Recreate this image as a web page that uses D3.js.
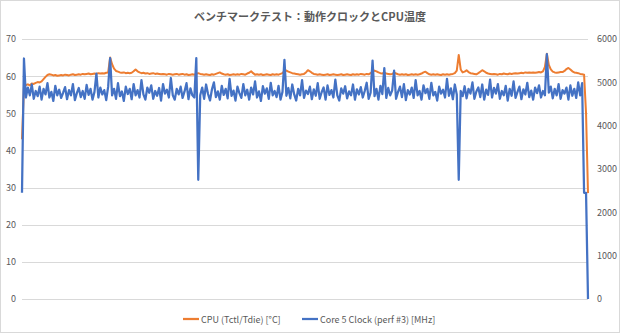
<!DOCTYPE html>
<html>
<head>
<meta charset="utf-8">
<script src="https://cdn.jsdelivr.net/npm/d3@7"></script>
<style>
  html, body { margin: 0; padding: 0; background: #fff; }
  svg { display: block; }
</style>
</head>
<body>
<svg id="chart" width="620" height="333"></svg>
<script>
// Benchmark log: CPU temperature (left axis) and core clock (right axis)
const title = "ベンチマークテスト：動作クロックとCPU温度";
const seriesNames = ["CPU (Tctl/Tdie) [°C]", "Core 5 Clock (perf #3) [MHz]"];
const tempTicks = [0, 10, 20, 30, 40, 50, 60, 70];
const clockTicks = [0, 1000, 2000, 3000, 4000, 5000, 6000];

const cpuTemp = [
  43, 57.2, 57.6, 57.8, 57.5, 58.0, 57.9, 58.2, 58.4, 58.3,
  58.6, 59.2, 59.8, 60.3, 60.5, 60.4, 60.2, 60.3, 60.1, 60.2,
  60.3, 60.2, 60.4, 60.3, 60.2, 60.4, 60.5, 60.3, 60.4, 60.5,
  60.4, 60.6, 60.5, 60.6, 60.7, 60.5, 60.6, 60.7, 60.6, 60.8,
  60.7, 60.8, 60.7, 60.9, 61.0, 65.0, 63.2, 62.0, 61.4, 61.2,
  61.0, 60.9, 61.0, 60.8, 60.9, 60.8, 60.9, 61.3, 61.8, 61.3,
  61.0, 60.8, 60.9, 60.7, 60.8, 60.6, 60.7, 60.8, 60.6, 60.7,
  60.6, 60.5, 60.6, 60.5, 60.4, 60.6, 60.5, 60.4, 60.5, 60.6,
  60.4, 60.5, 60.6, 60.4, 60.5, 60.3, 60.4, 60.5, 60.4, 60.6,
  60.8, 60.6, 60.5, 60.4, 60.5, 60.4, 60.3, 60.5, 60.4, 60.6,
  60.8, 61.0, 60.7, 60.5, 60.4, 60.5, 60.3, 60.4, 60.5, 60.4,
  60.5, 60.4, 60.6, 60.5, 60.4, 60.7, 60.9, 61.3, 60.8, 60.4,
  60.5, 60.4, 60.5, 60.3, 60.4, 60.5, 60.4, 60.3, 60.5, 60.4,
  60.5, 60.4, 60.6, 60.8, 61.4, 61.5, 61.2, 61.0, 60.8, 60.7,
  60.6, 60.5, 60.4, 60.5, 60.6, 61.0, 61.6, 61.3, 60.9, 60.6,
  60.5, 60.4, 60.5, 60.4, 60.3, 60.4, 60.5, 60.3, 60.4, 60.5,
  60.4, 60.3, 60.4, 60.5, 60.3, 60.4, 60.5, 60.4, 60.3, 60.5,
  60.4, 60.5, 60.4, 60.6, 60.5, 60.4, 60.6, 60.5, 60.8, 61.2,
  61.5, 61.3, 61.0, 60.8, 60.7, 60.9, 60.7, 60.6, 60.5, 60.6,
  60.9, 60.7, 60.5, 60.4, 60.5, 60.4, 60.5, 60.3, 60.4, 60.5,
  60.4, 60.5, 60.4, 60.5, 60.7, 61.0, 61.2, 60.8, 60.5, 60.4,
  60.5, 60.4, 60.5, 60.4, 60.3, 60.5, 60.4, 60.5, 60.4, 60.5,
  60.6, 60.8, 61.5, 65.7, 61.8, 61.0, 61.2, 61.6, 61.1, 60.8,
  60.7, 60.6, 60.5, 60.8, 61.2, 61.6, 61.3, 60.9, 60.7, 60.6,
  60.5, 60.6, 60.5, 60.4, 60.6, 60.5, 60.7, 60.6, 60.5, 60.7,
  60.6, 60.7, 60.8, 60.7, 60.8, 60.9, 60.8, 61.0, 60.9, 61.0,
  60.9, 61.0, 60.9, 61.0, 61.1, 61.0, 61.3, 62.5, 66.0, 63.0,
  61.8, 61.2, 61.0, 60.9, 61.0, 61.1, 61.1, 61.4, 61.9, 62.2,
  61.8, 61.3, 61.0, 60.9, 60.8, 60.6, 60.5, 60.4, 50.0, 28.5
];

const coreClock = [
  2450, 5550, 4650, 4880, 4700, 4950, 4620, 4800, 4680, 4900,
  4600, 4850, 4720, 4980, 4650, 4780, 4570, 4920, 4700, 4830,
  4640, 4760, 4890, 4610, 4820, 4700, 4960, 4590, 4750, 4870,
  4660, 4800, 4620, 4940, 4710, 4850, 4600, 4780, 5200, 4650,
  4880, 4720, 4820, 4590, 4900, 5560, 4700, 4850, 4620, 4980,
  4680, 4790, 4570, 4900, 4730, 4850, 4610, 4960, 4700, 4820,
  4650, 5050, 4720, 4600, 4880, 4760, 4930, 4620, 4800, 4690,
  4870, 4580, 4960, 4740, 4830, 4650, 5100, 4700, 4600, 4850,
  4720, 4900, 4640, 4790, 4980, 4610, 4860, 4700, 4650, 5560,
  2750, 4700, 4880, 4620, 4950, 4730, 4580, 4840, 5000, 4660,
  4790, 4600, 4920, 4710, 4850, 4630, 5080, 4690, 4810, 4580,
  4900, 4750, 4640, 4960, 4700, 4830, 4600, 4880, 4720, 5020,
  4650, 4790, 4570, 4910, 4740, 4860, 4620, 4990, 4700, 4800,
  4660, 4920, 4600, 4780, 5520, 4690, 4870, 4630, 4950, 4720,
  4580, 4850, 4700, 5050, 4640, 4810, 4730, 4900, 4610, 4840,
  4690, 4980, 4620, 4770, 4880, 4600, 4930, 4710, 4820, 4650,
  5060, 4700, 4580, 4860, 4740, 4910, 4630, 4790, 4700, 4950,
  4600, 4840, 4720, 4890, 4650, 4800, 4990, 4620, 4760, 5500,
  4680, 4850, 4600, 4920, 4730, 5330, 4640, 4870, 4700, 4810,
  5270, 4620, 4780, 4900, 4660, 4960, 4590, 4820, 4720, 4880,
  4640, 5050, 4700, 4800, 4600, 4930, 4750, 4850, 4620, 4990,
  4700, 4780, 4580, 4900, 4740, 4830, 4650, 5080, 4690, 4860,
  4610, 4950, 4720, 2750, 4800, 4680, 4910, 4630, 4850, 4740,
  5000, 4620, 4790, 4880, 4660, 4950, 4600, 4830, 4710, 5060,
  4650, 4870, 4740, 4960, 4620, 4800, 4700, 4920, 4580, 4850,
  4690, 5020, 4640, 4780, 4900, 4610, 4840, 4720, 4990, 4660,
  4810, 4600, 4880, 4750, 4930, 4650, 4800, 4700, 5650, 4760,
  4900, 4630, 4850, 4700, 4960, 4620, 4820, 4740, 4880, 4600,
  4930, 4690, 4850, 4640, 5000, 4700, 4980, 2450, 2450, 0
];

const W = 620, H = 333;
const plot = { left: 22, right: 588, top: 39, bottom: 299 };
const orange = "#ED7D31", blue = "#4472C4";
const textColor = "#595959", gridColor = "#D9D9D9";
const font = "'Noto Sans CJK JP', 'Noto Sans', sans-serif";

const svg = d3.select("#chart");

svg.append("rect")
  .attr("x", 0.5).attr("y", 0.5)
  .attr("width", W - 1).attr("height", H - 1)
  .attr("fill", "#fff").attr("stroke", gridColor);

const x = d3.scaleLinear().domain([0, cpuTemp.length - 1]).range([plot.left, plot.right]);
const yTemp = d3.scaleLinear().domain([0, 70]).range([plot.bottom, plot.top]);
const yClock = d3.scaleLinear().domain([0, 6000]).range([plot.bottom, plot.top]);

// horizontal gridlines follow the temperature axis
svg.append("g")
  .selectAll("line")
  .data(tempTicks)
  .join("line")
  .attr("x1", plot.left).attr("x2", plot.right)
  .attr("y1", d => Math.round(yTemp(d)) + 0.5)
  .attr("y2", d => Math.round(yTemp(d)) + 0.5)
  .attr("stroke", gridColor).attr("stroke-width", 1);

const leftAxis = d3.axisLeft(yTemp).tickValues(tempTicks).tickFormat(d3.format("d")).tickSize(0).tickPadding(0);
const gL = svg.append("g").attr("transform", `translate(${plot.left - 6},0)`).call(leftAxis);
gL.select(".domain").remove();
gL.selectAll("text").attr("fill", textColor).style("font", `9px ${font}`);

const rightAxis = d3.axisRight(yClock).tickValues(clockTicks).tickFormat(d3.format("d")).tickSize(0).tickPadding(0);
const gR = svg.append("g").attr("transform", `translate(${plot.right + 9},0)`).call(rightAxis);
gR.select(".domain").remove();
gR.selectAll("text").attr("fill", textColor).style("font", `9px ${font}`);

const tempLine = d3.line().x((d, i) => x(i)).y(d => yTemp(d));
const clockLine = d3.line().x((d, i) => x(i)).y(d => yClock(d));

svg.append("path")
  .datum(cpuTemp)
  .attr("d", tempLine)
  .attr("fill", "none")
  .attr("stroke", orange)
  .attr("stroke-width", 2)
  .attr("stroke-linejoin", "round");

svg.append("path")
  .datum(coreClock)
  .attr("d", clockLine)
  .attr("fill", "none")
  .attr("stroke", blue)
  .attr("stroke-width", 2.25)
  .attr("stroke-linejoin", "round");

svg.append("text")
  .attr("x", W / 2).attr("y", 21)
  .attr("text-anchor", "middle")
  .attr("fill", textColor)
  .style("font", `bold 11px ${font}`)
  .text(title);

// legend
const legendY = 319;
const legendItems = [
  { name: seriesNames[0], color: orange, x: 183 },
  { name: seriesNames[1], color: blue, x: 302 }
];
const lg = svg.append("g");
legendItems.forEach(item => {
  lg.append("line")
    .attr("x1", item.x).attr("x2", item.x + 16)
    .attr("y1", legendY).attr("y2", legendY)
    .attr("stroke", item.color).attr("stroke-width", 2.25);
  lg.append("text")
    .attr("x", item.x + 18).attr("y", legendY + 3.5)
    .attr("fill", textColor)
    .style("font", `9px ${font}`)
    .text(item.name);
});
</script>
</body>
</html>
